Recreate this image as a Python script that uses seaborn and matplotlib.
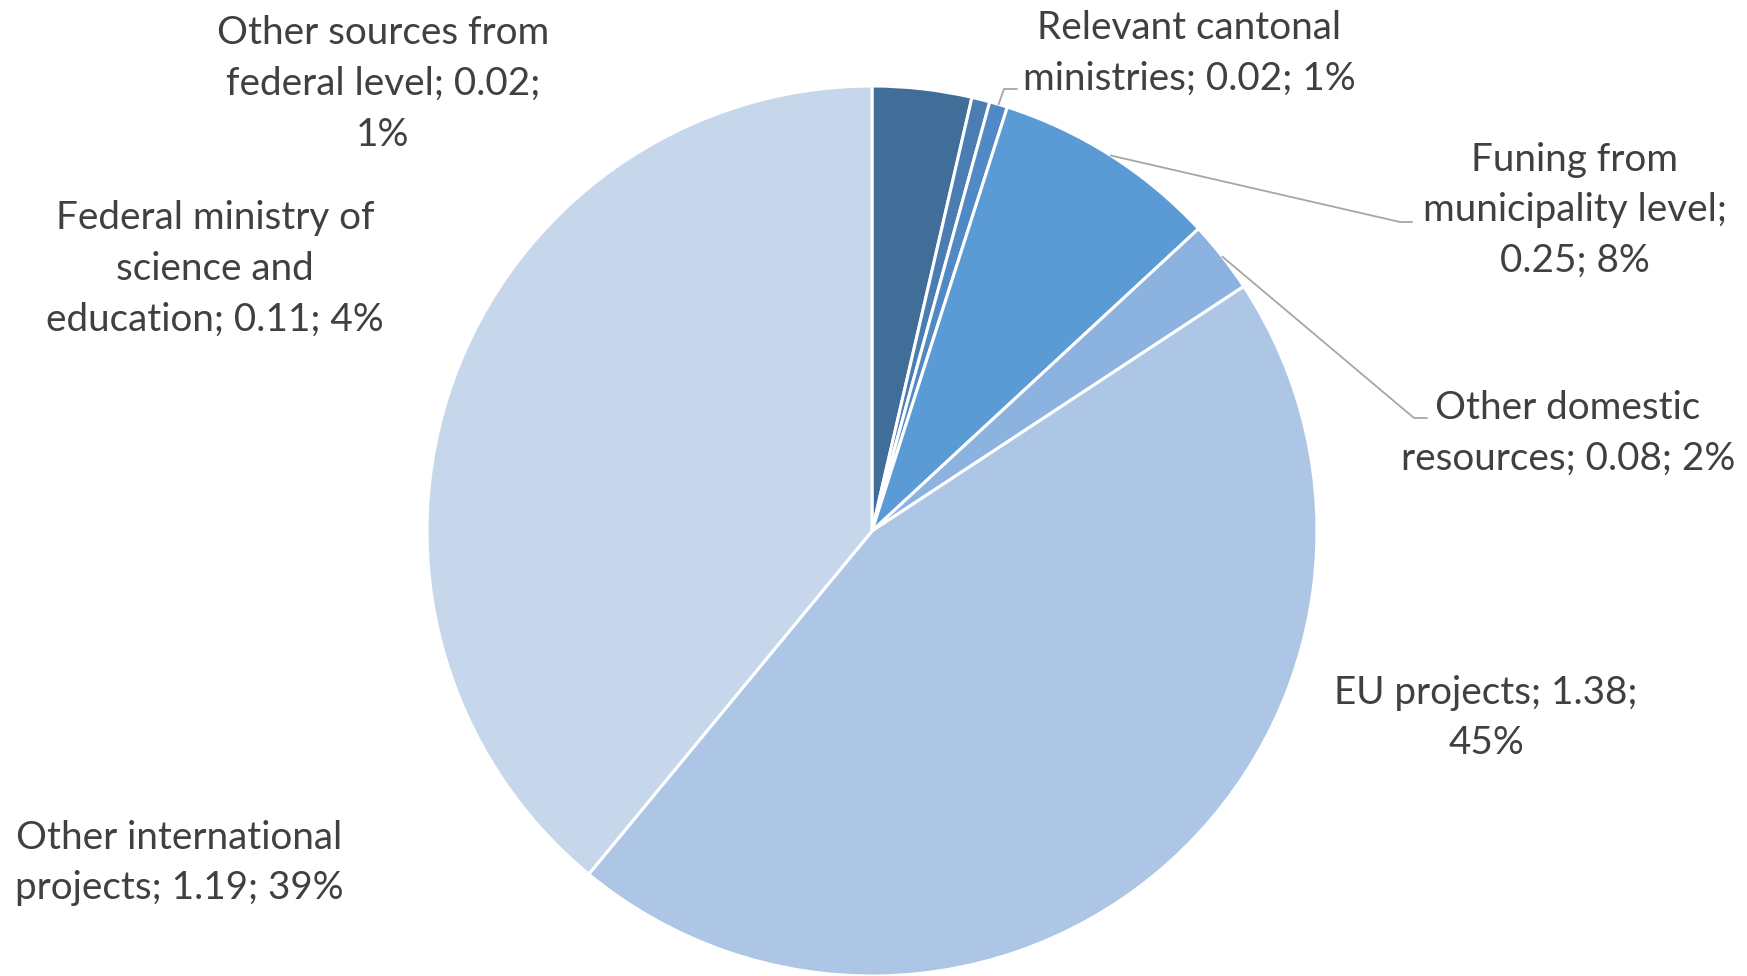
import numpy as np
import seaborn as sns
import matplotlib.pyplot as plt

sns.set_theme(style='white')
plt.rcParams['font.family'] = ['Lato', 'DejaVu Sans']

# data
sources = ['Federal ministry of science and education',
           'Other sources from federal level',
           'Relevant cantonal ministries',
           'Funing from municipality level',
           'Other domestic resources',
           'EU projects',
           'Other international projects']
amounts = [0.11, 0.02, 0.02, 0.25, 0.08, 1.38, 1.19]
shares = ['4%', '1%', '1%', '8%', '2%', '45%', '39%']
label_text = ['Federal ministry of\nscience and\neducation; 0.11; 4%',
              'Other sources from\nfederal level; 0.02;\n1%',
              'Relevant cantonal\nministries; 0.02; 1%',
              'Funing from\nmunicipality level;\n0.25; 8%',
              'Other domestic\nresources; 0.08; 2%',
              'EU projects; 1.38;\n45%',
              'Other international\nprojects; 1.19; 39%']
colors = ['#416E98', '#4A7EB3', '#5089C5', '#5B9BD5', '#8CB2DF', '#ADC6E5', '#C6D7EC']

# label positions (pixel layout) and which labels get a leader line
label_pos = [(215, 707), (383, 892), (1189, 923), (1575, 766), (1568, 543), (1486, 258), (179, 113)]
leader_end = {2: (1004, 887, 1017), 3: (1400, 754, 1412), 4: (1414, 558, 1427)}

W, H = 1747, 976
fig = plt.figure(figsize=(W / 100, H / 100), dpi=100)
ax = fig.add_axes([0, 0, 1, 1])

cx, cy, r = 872, 445, 445
wedges, _ = ax.pie(amounts, colors=colors, startangle=90, counterclock=False,
                   center=(cx, cy), radius=r,
                   wedgeprops=dict(edgecolor='white', linewidth=2.2))

for i, txt in enumerate(label_text):
    x, y = label_pos[i]
    ax.text(x, y, txt, ha='center', va='center', multialignment='center',
            fontsize=27.8, color='#404040', linespacing=1.5)

# leader lines from the middle of the slice edge
for i, (kx, ky, ex) in leader_end.items():
    w = wedges[i]
    mid = np.deg2rad((w.theta1 + w.theta2) / 2)
    sx, sy = cx + r * np.cos(mid), cy + r * np.sin(mid)
    ax.plot([sx, kx, ex], [sy, ky, ky], color='#A6A6A6', lw=1.3)

ax.set_xlim(0, W)
ax.set_ylim(0, H)
ax.set_aspect('equal')
ax.axis('off')

plt.savefig('out.png', dpi=100)
